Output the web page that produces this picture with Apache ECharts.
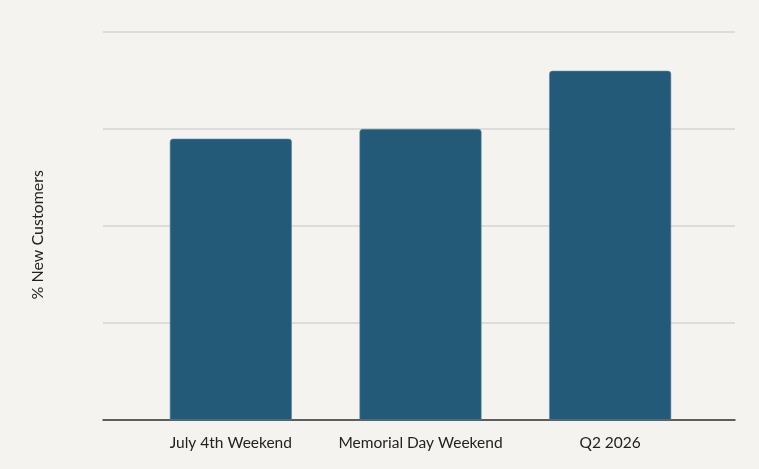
<!DOCTYPE html>
<html>
<head>
<meta charset="utf-8">
<script src="https://cdn.jsdelivr.net/npm/echarts@6/dist/echarts.min.js"></script>
<style>
html,body{margin:0;padding:0;background:#f4f3f0;}
#c{width:759px;height:469px;}
</style>
</head>
<body>
<div id="c"></div>
<script>
const categories = ['July 4th Weekend', 'Memorial Day Weekend', 'Q2 2026'];
const newCustomerPct = [29.0, 30.0, 36.0];
const yMin = 0, yMax = 40, yInterval = 10;

const chart = echarts.init(document.getElementById('c'));
const font = 'Lato, "Open Sans", sans-serif';
chart.setOption({
  backgroundColor: '#f4f3f0',
  animation: false,
  grid: [
    { left: 103, right: 24, top: 32, bottom: 49 },
    { left: 136, right: 54, top: 32, bottom: 49 }
  ],
  xAxis: [
    { gridIndex: 0, type: 'value', min: 0, max: 1, show: true,
      axisLine: { show: true, lineStyle: { color: '#333333', width: 1.5 } },
      axisTick: { show: false }, axisLabel: { show: false }, splitLine: { show: false } },
    { gridIndex: 1, type: 'category', data: categories,
      axisLine: { show: false }, axisTick: { show: false },
      axisLabel: { interval: 0, color: '#222222', fontFamily: font, fontSize: 15.5, margin: 15 } }
  ],
  yAxis: [
    { gridIndex: 0, type: 'value', min: yMin, max: yMax, interval: yInterval,
      axisLine: { show: false }, axisTick: { show: false }, axisLabel: { show: false },
      splitLine: { show: true, lineStyle: { color: '#d6d5d2', width: 1.5 } } },
    { gridIndex: 1, type: 'value', min: yMin, max: yMax, interval: yInterval, show: false,
      splitLine: { show: false } }
  ],
  graphic: [{
    type: 'text', left: 30, top: 170, rotation: Math.PI / 2,
    style: { text: '% New Customers', fill: '#222222', font: '16px ' + font }
  }],
  series: [{
    type: 'bar', xAxisIndex: 1, yAxisIndex: 1, data: newCustomerPct,
    barWidth: 122,
    itemStyle: { color: '#235a78', borderRadius: [3, 3, 0, 0], borderColor: '#5d87a0', borderWidth: 0.6 }
  }]
});
</script>
</body>
</html>
